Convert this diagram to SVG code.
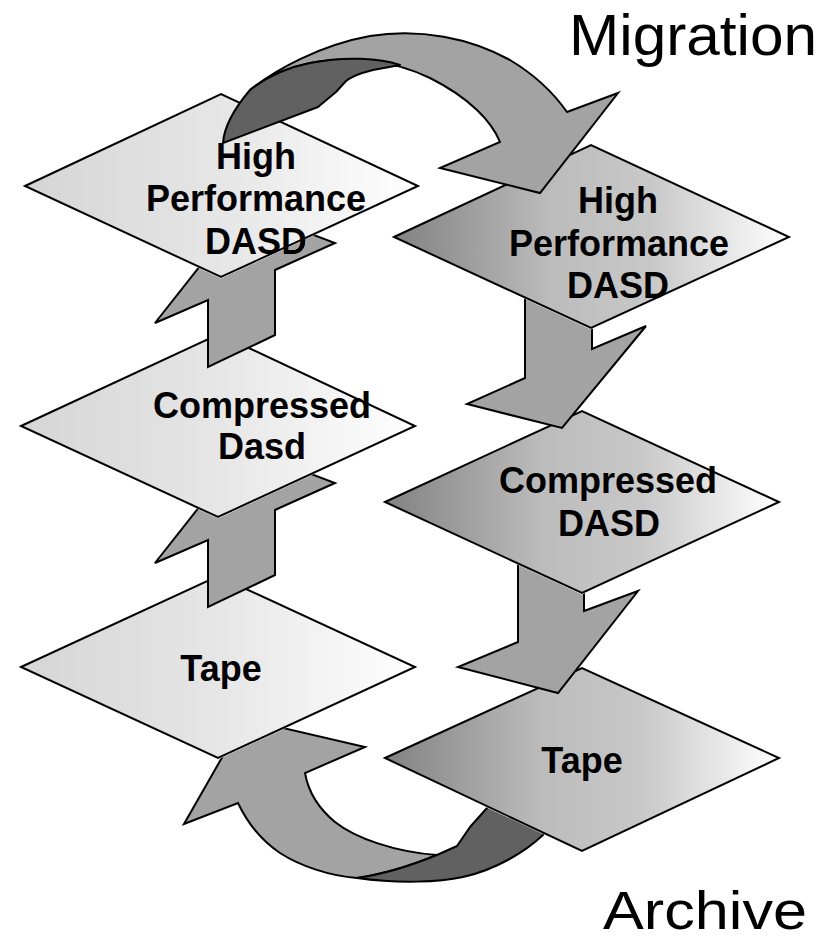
<svg xmlns="http://www.w3.org/2000/svg" xmlns:xlink="http://www.w3.org/1999/xlink" width="831" height="941" viewBox="0 0 831 941">
<style>
.dia{stroke:#000;stroke-width:2;stroke-linejoin:miter}
.dl{fill:url(#gL)}
.dr{fill:url(#gR)}
.lbl{font-family:"Liberation Sans",Arial,sans-serif;font-weight:bold;font-size:36px;text-anchor:middle;fill:#000}
.ttl{font-family:"Liberation Sans",Arial,sans-serif;font-size:58px;fill:#000}
.arw{fill:#a3a3a3;stroke:#000;stroke-width:2;stroke-linejoin:miter}
.drk{fill:#616161;stroke:#000;stroke-width:2;stroke-linejoin:round}
.mk{fill:#000;stroke:#000;stroke-width:2.5}
</style>
<defs>
<linearGradient id="gL" x1="0" y1="0" x2="1" y2="0">
<stop offset="0" stop-color="#d5d5d5"/>
<stop offset="0.5" stop-color="#e6e6e6"/>
<stop offset="1" stop-color="#ffffff"/>
</linearGradient>
<linearGradient id="gR" x1="0" y1="0" x2="1" y2="0">
<stop offset="0" stop-color="#828282"/>
<stop offset="0.4" stop-color="#bcbcbc"/>
<stop offset="0.65" stop-color="#c8c8c8"/>
<stop offset="1" stop-color="#ffffff"/>
</linearGradient>
<mask id="mHpdL" maskUnits="userSpaceOnUse" x="0" y="0" width="831" height="941">
<rect width="831" height="941" fill="#fff"/>
<polygon class="mk" points="25,186 221,94 418,186 221,277"/>
<use xlink:href="#t-hpdL-3"/>
</mask>
<mask id="mHpdR" maskUnits="userSpaceOnUse" x="0" y="0" width="831" height="941">
<rect width="831" height="941" fill="#fff"/>
<polygon class="mk" points="394,237 591,145 789,237 591,328"/>
</mask>
<mask id="mCmpL" maskUnits="userSpaceOnUse" x="0" y="0" width="831" height="941">
<rect width="831" height="941" fill="#fff"/>
<polygon class="mk" points="21,426 219,334 415,426 218,517"/>
</mask>
<mask id="mCmpR" maskUnits="userSpaceOnUse" x="0" y="0" width="831" height="941">
<rect width="831" height="941" fill="#fff"/>
<polygon class="mk" points="385,502 582,411 779,502 582,593"/>
</mask>
<mask id="mTapes" maskUnits="userSpaceOnUse" x="0" y="0" width="831" height="941">
<rect width="831" height="941" fill="#fff"/>
<polygon class="mk" points="21,667 218,576 415,667 218,758"/>
<polygon class="mk" points="385,758 582,668 779,758 582,851"/>
</mask>
</defs>
<rect width="831" height="941" fill="#fff"/>

<g id="tapeL">
<polygon class="dia dl" points="21,667 218,576 415,667 218,758"/>
<text class="lbl" x="221" y="681">Tape</text>
</g>
<g id="tapeR">
<polygon class="dia dr" points="385,758 582,668 779,758 582,851"/>
<text class="lbl" x="582" y="773">Tape</text>
</g>
<g id="compL">
<polygon class="dia dl" points="21,426 219,334 415,426 218,517"/>
<text class="lbl" x="262" y="418">Compressed</text>
<text class="lbl" x="262" y="459">Dasd</text>
</g>
<g id="compR">
<polygon class="dia dr" points="385,502 582,411 779,502 582,593"/>
<text class="lbl" x="608" y="493">Compressed</text>
<text class="lbl" x="609" y="536">DASD</text>
</g>
<g id="hpdL">
<polygon class="dia dl" points="25,186 221,94 418,186 221,277"/>
<text class="lbl" x="256" y="169">High</text>
<text class="lbl" x="256" y="211">Performance</text>
<text id="t-hpdL-3" class="lbl" x="256" y="254">DASD</text>
</g>
<g id="hpdR">
<polygon class="dia dr" points="394,237 591,145 789,237 591,328"/>
<text class="lbl" x="618" y="213">High</text>
<text class="lbl" x="619" y="256">Performance</text>
<text class="lbl" x="618" y="298">DASD</text>
</g>

<g id="connectors">
<g id="arrow-archive" mask="url(#mTapes)">
<path class="arw" d="M184,824 L244,719 L365,747 L305,773 C308,790 318,808 335,822 C355,838 395,852 437,855 C410,866 385,874 357,878 C330,876 300,866 280,853 C262,841 247,822 238,803 Z"/>
<path class="drk" d="M357,878 C385,874 410,866 437,855 L457,846 L470,827 L487,808 L500,790 L550,805 L543,835 C525,852 495,870 463,877 C440,882 400,884 357,878 Z"/>
</g>
<polygon id="arrow-tapeL-compL" class="arw" mask="url(#mCmpL)" points="245,449 155,563 208,540 208,607 275,575 275,510 335,483"/>
<polygon id="arrow-compL-hpdL" class="arw" mask="url(#mHpdL)" points="245,209 155,323 208,300 208,367 275,335 275,270 335,243"/>
<polygon id="arrow-hpdR-compR" class="arw" mask="url(#mHpdR)" points="525,285 525,378 467,404 562,428 646,326 592,349 592,255"/>
<polygon id="arrow-compR-tapeR" class="arw" mask="url(#mCmpR)" points="518,550 518,642 458,667 558,693 638,591 584,611 584,520"/>
<g id="arrow-migration">
<path class="arw" d="M250,90 C275,70 320,45 370,36 C420,28 470,38 510,60 C535,75 555,95 567,112 L618,93 L540,193 L440,168 L500,142 C492,122 470,98 430,78 C395,61 350,55 310,63 C285,68 265,78 250,90 Z"/>
<path class="drk" d="M223,143 C224,128 233,110 250,90 C265,78 285,68 310,63 C345,56 380,58 400,65 L373,70 Q353,75 346,81 L336,92 L318,107 Z"/>
</g>
</g>

<text class="ttl" x="569" y="55" textLength="248" lengthAdjust="spacingAndGlyphs">Migration</text>
<text class="ttl" x="603" y="929" style="font-size:53px" textLength="204" lengthAdjust="spacingAndGlyphs">Archive</text>
</svg>
